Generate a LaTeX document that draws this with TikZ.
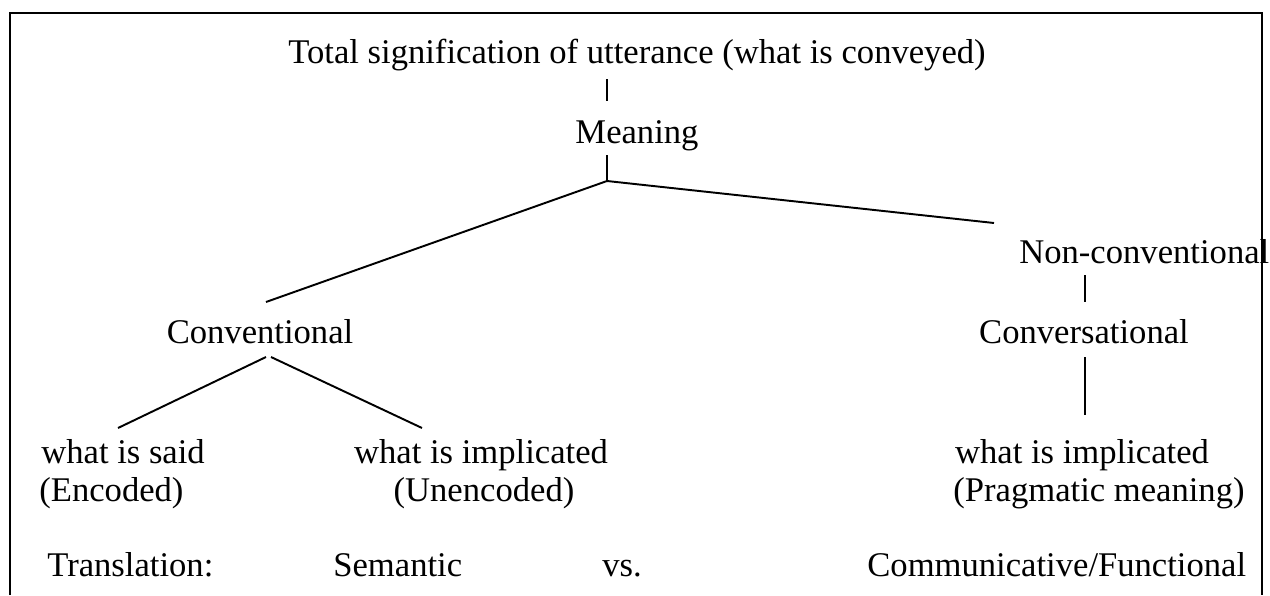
\documentclass[tikz,border=0pt]{standalone}
\usepackage{fontspec}
\setmainfont{Liberation Serif}
\usetikzlibrary{positioning,calc}
\tikzset{
  lbl/.style={inner sep=0pt,anchor=base,font=\fontsize{19.7}{23}\selectfont},
  lblw/.style={lbl,anchor=base west},
  branch/.style={line width=1.1pt}
}

\begin{document}
\begin{tikzpicture}[x=0.02cm,y=-0.02cm]
\useasboundingbox (0,0) rectangle (1270,595);
\draw[line width=1.3pt] (10,595)--(10,13)--(1262,13)--(1262,595);

% top of the tree
\node[lbl] (total) at (637,63) {Total signification of utterance (what is conveyed)};
\node[lbl] (meaning) at (637,143) {Meaning};
\node[lbl] (conv) at (260,343) {Conventional};
\node[lblw] (nonconv) at (1019,263) {Non-conventional};
\node[lbl] (convers) at (1084,343) {Conversational};

% leaves
\node[lblw] (said) at (41,463) {what is said};
\node[lblw] (encoded) at (39,501) {(Encoded)};
\node[lbl] (implL) at (481,463) {what is implicated};
\node[lbl] (unenc) at (484,501) {(Unencoded)};
\node[lbl] (implR) at (1082,463) {what is implicated};
\node[lblw] (prag) at (953,501) {(Pragmatic meaning)};

% bottom row
\foreach \x/\lab/\nm in {47/Translation:/transl,333/Semantic/semantic,602/vs./versus,867/Communicative\slash Functional/commun}{
  \node[lblw] (\nm) at (\x,576) {\lab};
}

% joints
\coordinate (totalfoot) at (607,79);
\coordinate (meaninghead) at (607,101);
\coordinate (meaningfoot) at (607,155);
\coordinate (fork) at (607,181);
\coordinate (convhead) at (266,302);
\coordinate (nonconvhead) at (994,223);
\coordinate (nonconvfoot) at (1085,275);
\coordinate (convershead) at (1085,302);
\coordinate (conversfoot) at (1085,357);
\coordinate (implRhead) at (1085,415);
\coordinate (convfootL) at (266,357);
\coordinate (convfootR) at (271,357);
\coordinate (saidhead) at (118,428);
\coordinate (implLhead) at (422,428);

\draw[branch] (totalfoot)--(meaninghead);
\draw[branch] (meaningfoot)--(fork);
\draw[branch] (fork)--(convhead);
\draw[branch] (fork)--(nonconvhead);
\draw[branch] (nonconvfoot)--(convershead);
\draw[branch] (conversfoot)--(implRhead);
\draw[branch] (convfootL)--(saidhead);
\draw[branch] (convfootR)--(implLhead);
\end{tikzpicture}
\end{document}
